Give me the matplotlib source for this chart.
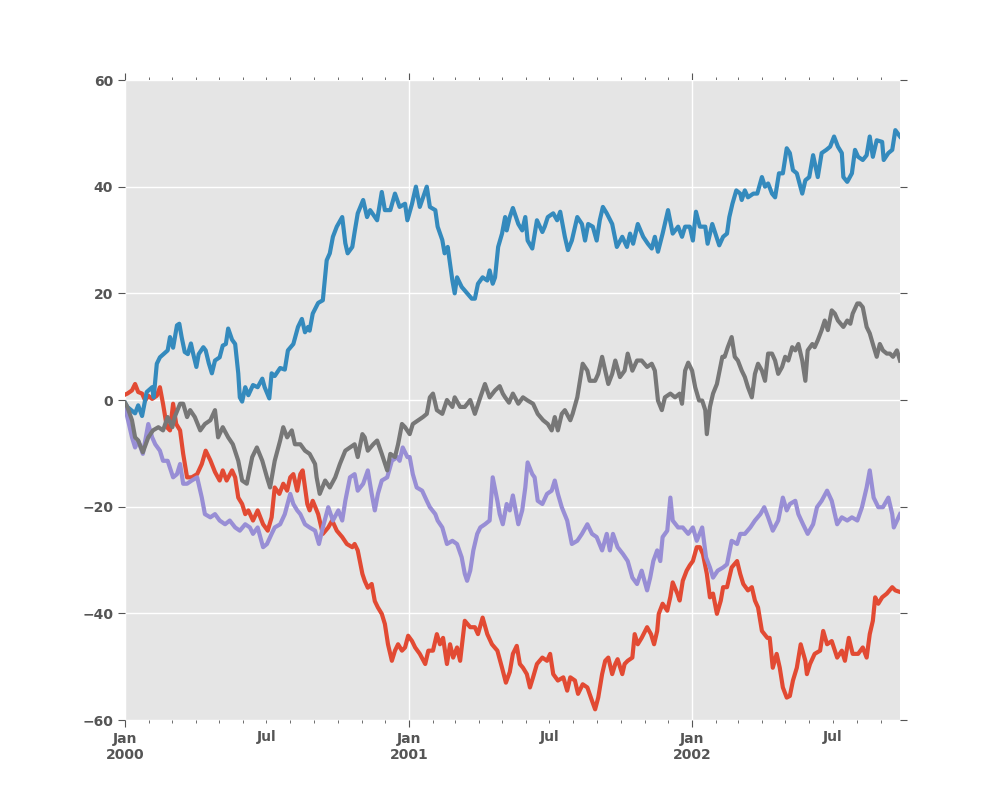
import numpy as np
import matplotlib
matplotlib.use("Agg")
import matplotlib.pyplot as plt
import matplotlib.dates as mdates
from matplotlib.ticker import FuncFormatter

START = np.datetime64("2000-01-01")

# day offsets from 2000-01-01 and values
red_days = [0, 3, 9, 13, 17, 22, 26, 30, 35, 41, 45, 49, 54, 58, 62, 66, 71, 75, 80, 86, 93, 99, 104, 110, 116, 122, 126, 131, 138, 142, 146, 151, 155, 159, 165, 171, 178, 184, 189, 193, 199, 204, 209, 213, 217, 222, 226, 229, 235, 238, 242, 249, 255, 262, 267, 273, 280, 286, 293, 296, 300, 306, 309, 313, 318, 322, 326, 331, 335, 339, 344, 348, 352, 357, 361, 365, 370, 374, 380, 387, 391, 397, 402, 406, 410, 415, 419, 423, 428, 432, 438, 445, 451, 455, 461, 467, 473, 480, 486, 491, 496, 500, 505, 509, 513, 518, 522, 526, 531, 538, 544, 548, 552, 558, 565, 570, 574, 580, 584, 590, 596, 602, 606, 610, 615, 619, 623, 628, 632, 635, 641, 644, 648, 654, 657, 661, 666, 673, 678, 682, 686, 688, 693, 699, 703, 706, 712, 715, 719, 724, 728, 732, 737, 741, 745, 750, 754, 758, 763, 768, 771, 776, 782, 789, 793, 797, 803, 808, 812, 816, 821, 828, 831, 835, 840, 844, 848, 853, 857, 861, 866, 871, 877, 879, 883, 889, 896, 900, 905, 911, 918, 924, 928, 933, 938, 945, 951, 956, 960, 964, 967, 971, 976, 982, 989, 993, 999]
red_vals = [1.0, 1.2, 1.8, 3.0, 1.5, 1.2, -0.1, 0.8, 0.2, 0.8, 2.4, -0.7, -5.1, -5.7, -0.7, -4.5, -5.7, -10.1, -14.5, -14.5, -13.9, -12.0, -9.5, -11.3, -13.5, -15.1, -13.2, -15.1, -13.2, -14.5, -18.3, -19.5, -21.4, -20.7, -22.6, -20.7, -23.3, -24.5, -22.0, -16.4, -17.6, -15.7, -17.0, -14.5, -13.9, -17.0, -13.9, -13.2, -19.5, -20.7, -18.9, -21.4, -25.1, -23.9, -22.6, -24.5, -25.7, -27.0, -27.6, -27.0, -28.2, -32.6, -33.9, -35.2, -34.5, -37.7, -38.9, -40.1, -42.0, -45.8, -48.9, -47.0, -45.8, -47.0, -46.4, -44.2, -45.2, -46.4, -47.6, -49.5, -47.0, -47.0, -43.9, -45.8, -44.6, -49.5, -45.8, -48.3, -46.4, -48.9, -41.4, -42.6, -42.6, -43.9, -40.8, -43.9, -45.8, -47.0, -50.2, -53.0, -51.0, -47.6, -46.1, -49.5, -50.2, -51.4, -53.9, -52.0, -49.5, -48.3, -48.9, -47.6, -51.4, -52.6, -52.0, -54.5, -52.0, -52.6, -55.1, -53.3, -53.9, -56.4, -58.0, -55.8, -51.4, -48.9, -48.3, -51.4, -49.5, -48.6, -51.4, -49.5, -48.9, -48.3, -43.9, -45.8, -44.6, -42.6, -43.9, -45.8, -43.3, -40.1, -38.2, -39.5, -36.9, -34.2, -36.3, -37.6, -33.9, -32.0, -31.0, -30.2, -27.6, -27.6, -28.9, -32.6, -37.0, -36.3, -40.1, -37.6, -35.1, -35.1, -31.4, -30.2, -32.6, -34.5, -35.7, -35.1, -37.6, -38.9, -43.3, -44.6, -44.6, -50.2, -47.6, -50.2, -53.9, -55.8, -55.5, -52.6, -50.2, -45.8, -48.9, -51.4, -49.5, -47.6, -47.0, -43.3, -45.8, -45.2, -48.3, -47.0, -48.9, -44.6, -47.6, -47.6, -46.4, -48.3, -43.9, -41.4, -37.0, -38.2, -37.0, -36.3, -35.1, -35.7, -36.0]

blue_days = [0, 3, 13, 17, 22, 28, 35, 37, 41, 45, 52, 55, 58, 62, 67, 70, 73, 77, 81, 85, 88, 92, 95, 101, 104, 108, 112, 116, 122, 126, 130, 133, 138, 142, 146, 148, 151, 155, 159, 165, 171, 177, 180, 186, 189, 193, 200, 206, 210, 217, 223, 228, 232, 236, 238, 242, 249, 255, 260, 264, 268, 273, 280, 284, 287, 293, 296, 300, 307, 312, 316, 325, 331, 335, 342, 348, 354, 361, 364, 370, 375, 380, 389, 393, 400, 403, 409, 412, 416, 422, 425, 428, 434, 441, 447, 451, 455, 461, 467, 470, 474, 477, 481, 486, 490, 492, 496, 500, 507, 512, 516, 519, 525, 531, 538, 541, 545, 552, 557, 561, 567, 571, 576, 583, 589, 593, 597, 603, 608, 612, 616, 621, 628, 634, 641, 647, 651, 655, 661, 668, 674, 679, 683, 687, 693, 700, 706, 713, 718, 722, 728, 732, 736, 741, 748, 751, 757, 761, 766, 771, 776, 779, 783, 788, 793, 795, 799, 803, 810, 815, 821, 825, 829, 834, 838, 843, 848, 853, 857, 861, 866, 873, 877, 882, 887, 893, 898, 904, 909, 914, 919, 924, 926, 931, 937, 941, 945, 951, 956, 960, 964, 969, 976, 978, 984, 989, 993, 999]
blue_vals = [-0.5, -1.3, -2.5, -1.0, -3.0, 1.5, 2.4, 0.5, 6.8, 8.0, 8.9, 9.3, 11.8, 9.8, 14.0, 14.3, 11.8, 9.0, 8.6, 10.6, 8.6, 6.2, 8.6, 9.9, 9.3, 6.9, 5.0, 7.4, 8.0, 10.2, 10.5, 13.4, 11.3, 10.5, 5.0, 0.5, -0.3, 2.4, 0.9, 2.8, 2.4, 4.0, 2.4, 0.3, 5.0, 4.5, 6.0, 5.7, 9.3, 10.5, 13.7, 15.2, 12.7, 13.7, 13.0, 16.2, 18.2, 18.7, 26.2, 27.5, 30.6, 32.5, 34.3, 29.4, 27.5, 28.7, 31.5, 35.0, 37.5, 34.3, 35.6, 33.7, 39.0, 35.6, 35.6, 38.7, 36.2, 36.8, 33.7, 36.8, 40.0, 36.2, 40.0, 36.2, 35.6, 32.5, 30.0, 27.5, 28.7, 22.4, 20.0, 23.0, 21.2, 20.0, 19.0, 19.0, 21.8, 23.0, 22.4, 24.3, 21.8, 23.0, 28.7, 31.2, 34.3, 31.8, 34.3, 36.0, 33.0, 31.8, 34.3, 29.9, 28.4, 33.7, 31.5, 32.5, 34.3, 35.0, 33.7, 35.3, 30.6, 28.1, 29.9, 34.3, 33.0, 29.9, 33.0, 32.5, 29.9, 33.7, 36.2, 35.0, 33.0, 28.7, 30.6, 28.7, 31.2, 29.3, 33.0, 30.6, 29.3, 28.4, 30.6, 27.8, 31.2, 35.6, 31.2, 32.5, 30.6, 32.5, 32.5, 29.9, 35.3, 32.5, 32.5, 29.3, 33.0, 31.2, 29.0, 30.6, 31.2, 34.3, 36.8, 39.3, 38.7, 37.5, 39.3, 38.0, 38.7, 38.7, 41.8, 40.0, 40.6, 38.7, 38.0, 42.5, 42.5, 47.2, 46.3, 43.1, 42.5, 38.7, 41.2, 41.8, 45.9, 41.8, 46.3, 46.9, 47.5, 49.4, 47.5, 46.3, 41.8, 40.9, 42.5, 46.9, 45.6, 45.0, 45.9, 49.4, 45.6, 48.7, 48.4, 45.0, 46.3, 46.9, 50.6, 49.4]

purple_days = [0, 3, 9, 13, 17, 23, 30, 35, 39, 45, 49, 55, 62, 67, 71, 75, 80, 86, 93, 99, 103, 110, 116, 122, 129, 135, 142, 148, 155, 161, 165, 171, 178, 183, 189, 193, 200, 206, 213, 217, 222, 226, 232, 238, 245, 250, 255, 262, 268, 275, 280, 284, 290, 296, 300, 307, 313, 318, 322, 326, 331, 338, 344, 351, 354, 358, 364, 367, 371, 376, 383, 389, 393, 400, 403, 409, 415, 422, 428, 434, 438, 441, 445, 449, 454, 458, 464, 470, 474, 480, 483, 487, 492, 496, 500, 507, 512, 516, 519, 525, 528, 532, 538, 544, 550, 554, 558, 563, 570, 576, 583, 589, 596, 602, 608, 615, 621, 625, 629, 635, 642, 648, 654, 660, 666, 673, 677, 681, 686, 690, 693, 699, 703, 706, 713, 719, 726, 732, 737, 744, 749, 754, 758, 764, 771, 776, 782, 789, 793, 799, 806, 812, 819, 824, 829, 835, 842, 848, 853, 857, 864, 868, 874, 880, 887, 892, 898, 905, 911, 918, 924, 931, 937, 944, 950, 956, 960, 965, 971, 977, 984, 989, 991, 999]
purple_vals = [-1.0, -3.2, -7.0, -8.9, -7.6, -10.1, -4.5, -7.0, -8.3, -9.5, -11.4, -11.4, -14.5, -13.9, -12.0, -15.7, -15.7, -15.1, -14.5, -18.3, -21.4, -22.0, -21.4, -22.6, -23.3, -22.6, -23.9, -24.5, -23.3, -23.9, -25.1, -23.9, -27.6, -27.0, -25.1, -23.9, -23.3, -21.4, -17.6, -19.5, -20.7, -21.4, -23.3, -23.9, -24.5, -27.0, -23.9, -20.1, -22.6, -20.7, -22.6, -18.9, -14.5, -13.9, -17.0, -15.7, -13.2, -17.6, -20.7, -17.6, -15.1, -14.5, -11.4, -10.7, -11.4, -8.9, -10.7, -10.7, -13.9, -16.4, -17.0, -18.9, -20.1, -21.4, -22.6, -23.9, -27.0, -26.4, -27.0, -29.5, -32.6, -33.9, -32.0, -28.2, -25.1, -23.9, -23.3, -22.6, -14.5, -18.9, -21.4, -23.3, -19.5, -20.7, -17.9, -23.3, -20.7, -16.4, -11.7, -13.9, -14.5, -18.9, -19.5, -17.6, -17.0, -15.1, -17.6, -20.1, -22.6, -27.0, -26.4, -25.1, -23.3, -25.1, -25.7, -28.2, -25.1, -28.2, -25.1, -27.6, -28.9, -30.2, -33.3, -34.5, -32.0, -35.7, -33.3, -30.2, -28.2, -30.2, -25.7, -24.5, -18.3, -22.6, -23.9, -23.9, -25.1, -23.9, -26.4, -23.9, -29.5, -31.4, -33.3, -32.0, -31.4, -30.8, -26.4, -27.0, -25.1, -25.1, -23.9, -22.6, -21.4, -20.1, -22.0, -24.5, -22.6, -18.3, -20.7, -19.5, -18.9, -21.4, -23.3, -25.1, -23.3, -20.1, -18.9, -17.0, -18.9, -23.3, -22.0, -22.6, -22.0, -22.6, -20.1, -16.4, -13.2, -18.3, -20.1, -20.1, -18.3, -21.4, -23.9, -21.4]

gray_days = [0, 3, 9, 13, 17, 23, 30, 36, 43, 49, 55, 61, 64, 71, 75, 80, 84, 90, 97, 103, 110, 116, 120, 126, 133, 139, 146, 151, 157, 164, 170, 177, 183, 187, 193, 200, 204, 209, 215, 219, 226, 232, 238, 245, 247, 251, 258, 264, 271, 277, 284, 290, 296, 300, 306, 309, 313, 320, 325, 331, 338, 342, 348, 352, 357, 361, 367, 371, 378, 384, 389, 393, 397, 402, 409, 415, 422, 425, 432, 438, 445, 451, 458, 464, 470, 477, 483, 487, 490, 495, 500, 507, 513, 519, 526, 532, 539, 545, 550, 554, 558, 563, 567, 574, 577, 583, 590, 596, 599, 606, 610, 615, 619, 623, 628, 632, 638, 644, 648, 654, 660, 666, 673, 679, 683, 687, 692, 696, 703, 709, 715, 718, 722, 726, 731, 735, 740, 744, 748, 750, 754, 758, 763, 770, 773, 777, 782, 786, 790, 795, 799, 803, 808, 812, 816, 821, 825, 829, 834, 838, 842, 847, 851, 855, 860, 864, 868, 873, 877, 880, 886, 889, 893, 898, 902, 906, 911, 915, 919, 926, 931, 935, 938, 944, 947, 951, 956, 960, 964, 969, 973, 977, 982, 986, 990, 995, 999]
gray_vals = [-0.5, -1.3, -3.8, -7.0, -7.6, -9.8, -7.0, -5.7, -5.1, -5.7, -3.2, -5.1, -3.2, -0.7, -0.7, -3.2, -1.9, -3.2, -5.7, -4.5, -3.8, -1.9, -7.0, -5.1, -7.0, -8.3, -11.4, -15.1, -15.7, -10.7, -8.9, -11.4, -14.5, -16.4, -11.4, -7.6, -5.1, -7.0, -5.7, -8.3, -8.3, -9.5, -10.1, -12.0, -14.5, -17.6, -15.1, -16.4, -14.5, -12.0, -9.5, -8.9, -8.3, -10.7, -6.4, -7.0, -9.5, -8.3, -7.6, -10.1, -13.2, -10.1, -10.7, -8.3, -4.5, -5.1, -6.4, -4.5, -3.8, -3.2, -2.6, 0.5, 1.2, -1.9, -2.6, 0.0, -1.3, 0.5, -1.3, -1.3, 0.0, -2.6, 0.5, 3.0, 0.5, 1.8, 2.6, 1.2, 0.5, -0.5, 1.2, -0.7, 0.5, -0.1, -0.7, -2.6, -3.8, -4.5, -5.7, -3.2, -5.7, -2.6, -1.9, -3.8, -2.6, 0.5, 6.8, 5.5, 3.6, 3.6, 4.9, 8.1, 5.5, 3.0, 4.9, 7.4, 4.3, 5.5, 8.7, 5.5, 7.4, 7.4, 6.2, 6.8, 5.5, -0.1, -1.9, 0.5, 1.2, 0.5, 1.2, -0.7, 5.5, 7.0, 5.5, 2.4, -0.1, -0.1, -1.9, -6.4, -1.3, 1.2, 3.0, 8.1, 8.1, 9.9, 11.8, 8.1, 7.4, 5.5, 4.3, 2.4, 0.5, 4.9, 6.8, 5.5, 3.6, 8.7, 8.7, 7.4, 4.9, 6.2, 8.1, 7.4, 9.9, 9.3, 10.5, 7.4, 3.6, 9.3, 10.5, 9.9, 11.2, 13.1, 14.9, 13.1, 16.8, 16.2, 14.9, 13.7, 14.9, 14.3, 16.2, 18.1, 18.1, 17.4, 13.7, 12.5, 10.5, 8.1, 10.5, 9.3, 8.7, 8.7, 8.1, 9.3, 7.4]

SERIES = [
    (red_days, red_vals, "#E24A33"),
    (blue_days, blue_vals, "#348ABD"),
    (purple_days, purple_vals, "#988ED5"),
    (gray_days, gray_vals, "#777777"),
]


def jul_only(x, pos=None):
    d = mdates.num2date(x)
    return "Jul" if d.month == 7 else ""


def main() -> None:
    plt.style.use("ggplot")
    plt.rcParams["font.weight"] = "bold"
    fig, ax = plt.subplots(figsize=(10, 8), dpi=100)
    fig.subplots_adjust(left=0.125, right=0.9, top=0.9, bottom=0.1)

    for days, vals, color in SERIES:
        dates = START + np.array(days, dtype="timedelta64[D]")
        ax.plot(dates, vals, color=color, lw=3)

    ax.set_xlim(START, START + np.timedelta64(999, "D"))
    ax.set_ylim(-60, 60)
    ax.set_yticks(np.arange(-60, 61, 20))

    ax.xaxis.set_major_locator(mdates.YearLocator())
    ax.xaxis.set_major_formatter(mdates.DateFormatter("%b\n%Y"))
    ax.xaxis.set_minor_locator(mdates.MonthLocator())
    ax.xaxis.set_minor_formatter(FuncFormatter(jul_only))

    ax.grid(True, which="major", color="white", lw=1)
    ax.grid(False, which="minor")
    ax.tick_params(which="both", direction="out", top=True, right=True,
                   colors="#555555", labelsize=10)
    ax.tick_params(which="major", length=5)
    ax.tick_params(which="minor", length=2.5, pad=4.5)
    for s in ax.spines.values():
        s.set_visible(False)

    fig.savefig("out.png", dpi=100)
    plt.close(fig)


if __name__ == "__main__":
    main()
